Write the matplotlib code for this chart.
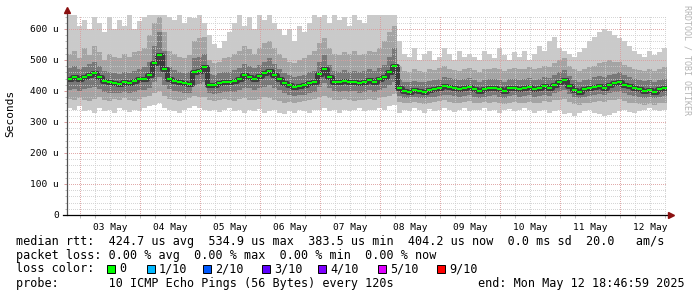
import numpy as np
import matplotlib
matplotlib.use("Agg")
import matplotlib.pyplot as plt
from matplotlib.patches import Rectangle

# 10 day smokeping graph, 2 hour bins, values in microseconds
day_labels = ["03 May", "04 May", "05 May", "06 May", "07 May",
              "08 May", "09 May", "10 May", "11 May", "12 May"]

median = [440, 445, 438, 445, 452, 458, 445, 432, 428, 425,
          422, 428, 425, 432, 438, 440, 450, 490, 515, 470,
          440, 432, 428, 425, 422, 462, 465, 478, 420, 418,
          425, 430, 428, 432, 440, 450, 445, 440, 448, 458,
          465, 450, 438, 425, 418, 412, 415, 418, 425, 430,
          455, 470, 445, 430, 428, 432, 428, 430, 425, 430,
          435, 430, 438, 445, 462, 480, 410, 400, 398, 402,
          400, 398, 402, 405, 410, 415, 412, 408, 405, 410,
          412, 405, 400, 405, 408, 410, 405, 400, 408, 410,
          405, 408, 412, 405, 410, 415, 410, 420, 430, 435,
          415, 402, 398, 405, 410, 412, 415, 410, 418, 425,
          428, 420, 415, 410, 405, 400, 402, 398, 405, 408]

outer_hi = [645, 650, 610, 630, 600, 640, 620, 590, 640, 600,
            630, 610, 645, 600, 625, 640, 650, 660, 660, 650,
            640, 630, 645, 620, 640, 635, 645, 620, 580, 550,
            540, 560, 590, 620, 645, 610, 640, 600, 645, 630,
            645, 620, 600, 580, 600, 560, 610, 590, 620, 645,
            640, 645, 620, 645, 630, 640, 610, 645, 630, 620,
            645, 650, 650, 650, 650, 650, 560, 520, 510, 540,
            500, 520, 530, 500, 510, 540, 520, 500, 530, 510,
            520, 510, 500, 530, 520, 505, 540, 515, 500, 525,
            510, 530, 500, 520, 545, 530, 560, 575, 540, 530,
            520, 510, 525, 540, 560, 575, 590, 600, 595, 580,
            570, 560, 545, 530, 520, 510, 530, 515, 525, 540]

outer_lo = [345, 340, 350, 335, 340, 330, 345, 335, 340, 330,
            345, 338, 332, 340, 335, 345, 350, 355, 360, 345,
            340, 335, 330, 338, 345, 350, 345, 340, 335, 340,
            332, 338, 345, 335, 340, 330, 338, 335, 342, 330,
            335, 340, 330, 325, 335, 330, 340, 335, 330, 338,
            340, 345, 335, 340, 330, 338, 335, 340, 345, 335,
            340, 338, 345, 340, 350, 355, 330, 340, 335, 345,
            338, 330, 342, 335, 340, 345, 338, 332, 340, 345,
            335, 340, 338, 345, 335, 340, 330, 338, 342, 335,
            340, 345, 338, 330, 335, 340, 328, 335, 340, 325,
            330, 320, 328, 335, 340, 330, 325, 318, 322, 330,
            335, 340, 332, 328, 335, 340, 345, 338, 335, 340]

mid_hi = [520, 530, 505, 540, 515, 545, 525, 500, 520, 510,
          505, 520, 510, 525, 530, 540, 580, 620, 640, 590,
          530, 520, 510, 505, 515, 560, 570, 575, 500, 490,
          495, 505, 510, 520, 530, 545, 535, 520, 540, 555,
          560, 540, 520, 505, 495, 490, 500, 505, 515, 530,
          555, 570, 540, 520, 515, 525, 520, 530, 515, 520,
          530, 525, 540, 560, 590, 610, 480, 465, 460, 470,
          465, 460, 470, 468, 475, 480, 472, 468, 465, 470,
          475, 468, 462, 470, 472, 475, 470, 465, 472, 475,
          470, 472, 478, 470, 475, 482, 478, 490, 500, 505,
          480, 470, 465, 472, 478, 482, 490, 495, 500, 495,
          492, 485, 478, 472, 468, 465, 470, 466, 472, 476]

mid_lo = [375, 370, 378, 372, 368, 375, 380, 372, 368, 375,
          370, 378, 372, 368, 375, 380, 385, 395, 400, 385,
          375, 370, 368, 372, 378, 385, 382, 380, 370, 368,
          372, 375, 370, 368, 375, 378, 372, 370, 375, 380,
          378, 372, 368, 362, 365, 360, 365, 368, 370, 375,
          380, 385, 378, 372, 370, 375, 372, 368, 370, 372,
          375, 372, 378, 380, 385, 390, 365, 362, 360, 365,
          362, 358, 362, 365, 368, 370, 365, 362, 360, 365,
          368, 362, 360, 365, 362, 365, 360, 358, 362, 365,
          360, 362, 365, 360, 362, 368, 365, 370, 372, 375,
          365, 358, 355, 360, 362, 365, 368, 365, 370, 372,
          375, 368, 362, 360, 358, 355, 358, 355, 360, 362]

inner_hi = [475, 480, 470, 478, 488, 495, 480, 465, 460, 458,
            455, 462, 458, 465, 472, 478, 495, 545, 590, 530,
            478, 468, 462, 458, 460, 505, 510, 520, 455, 450,
            458, 462, 460, 468, 475, 488, 482, 475, 485, 495,
            505, 488, 472, 458, 450, 445, 448, 452, 460, 465,
            495, 515, 485, 465, 462, 468, 462, 465, 460, 465,
            470, 465, 475, 485, 510, 540, 440, 430, 428, 432,
            430, 428, 432, 436, 440, 445, 442, 438, 435, 440,
            442, 436, 430, 435, 438, 440, 435, 430, 438, 440,
            436, 438, 442, 436, 440, 446, 442, 452, 462, 468,
            448, 434, 430, 436, 440, 444, 448, 444, 450, 456,
            460, 452, 446, 440, 436, 432, 434, 430, 436, 440]

inner_lo = [402, 405, 400, 405, 410, 412, 405, 398, 395, 395,
            392, 396, 394, 398, 402, 404, 410, 430, 445, 420,
            405, 400, 398, 395, 394, 420, 422, 430, 392, 390,
            394, 398, 396, 398, 404, 410, 408, 404, 408, 414,
            418, 410, 402, 394, 388, 384, 386, 388, 394, 398,
            412, 425, 410, 400, 398, 400, 398, 400, 395, 398,
            402, 398, 404, 410, 420, 430, 385, 378, 376, 380,
            378, 376, 380, 382, 385, 388, 386, 384, 382, 385,
            386, 382, 378, 382, 384, 386, 382, 378, 384, 386,
            382, 384, 386, 382, 385, 388, 385, 392, 398, 402,
            390, 380, 376, 382, 385, 388, 390, 386, 392, 396,
            398, 392, 388, 385, 382, 378, 380, 376, 382, 384]

loss_labels = ["0", "1/10", "2/10", "3/10", "4/10", "5/10", "9/10"]
loss_colors = ["#00ff00", "#00b8ff", "#0059ff", "#5e00ff", "#7e00ff", "#dd00ff", "#ff0000"]

# hours relative to 03 May 00:00, graph ends 12 May 18:46:59
start = -(5 + 13 / 60)
edges = start + 2 * np.arange(len(median) + 1)


def stepped(vals):
    return np.append(vals, vals[-1])


fig = plt.figure(figsize=(6.97, 2.97), dpi=100)
W, H = 697, 297
ax = fig.add_axes([67 / W, 82 / H, 600 / W, 200 / H])
ax.set_xlim(start, start + 240)
ax.set_ylim(0, 645)

ax.fill_between(edges, stepped(outer_lo), stepped(outer_hi), step="post",
                color="#cacaca", lw=0, zorder=1)
ax.fill_between(edges, stepped(mid_lo), stepped(mid_hi), step="post",
                color="#a4a4a4", lw=0, zorder=1)
ax.fill_between(edges, stepped(inner_lo), stepped(inner_hi), step="post",
                color="#787878", lw=0, zorder=1)
ax.step(edges, stepped(median), where="post", color="#3c3c3c", lw=3.6, zorder=2)

# dotted grid drawn over the smoke, like rrdtool
px = 0.72
grid_kw = dict(lw=px, ls=(0, (1, 2)), antialiased=False, zorder=3)
for v in range(20, 645, 20):
    if v % 100:
        ax.axhline(v, color="#cccccc", alpha=0.8, **grid_kw)
for v in range(100, 645, 100):
    ax.axhline(v, color="#dc9c9c", alpha=0.85, **grid_kw)
for h in range(0, 235, 6):
    if h % 24:
        ax.axvline(h, color="#cccccc", alpha=0.8, **grid_kw)
for h in range(0, 235, 24):
    ax.axvline(h, color="#dc9c9c", alpha=0.85, **grid_kw)

ax.hlines(median, edges[:-1], edges[1:], color="#00ff00", lw=1.5, zorder=4)

for s in ax.spines.values():
    s.set_visible(False)
ax.plot([0, 0], [0, 1.02], transform=ax.transAxes, color="#505050", lw=0.9,
        clip_on=False, zorder=5)
ax.plot([-0.007, 1.004], [0, 0], transform=ax.transAxes, color="black", lw=0.9,
        clip_on=False, zorder=5)
ax.plot([0], [1.025], transform=ax.transAxes, marker="^", ms=4, color="#8b1010",
        clip_on=False, zorder=6)
ax.plot([1.007], [0], transform=ax.transAxes, marker=">", ms=4, color="#8b1010",
        clip_on=False, zorder=6)

mono = "DejaVu Sans Mono"
ax.set_yticks(range(0, 645, 100))
ax.set_yticklabels(["0"] + [f"{v} u" for v in range(100, 645, 100)],
                   family=mono, fontsize=6.8)
ax.set_yticks(range(20, 645, 20), minor=True)
ax.set_xticks([12 + 24 * i for i in range(len(day_labels))])
ax.set_xticklabels(day_labels, family=mono, fontsize=6.8)
ax.set_xticks(range(0, 235, 6), minor=True)
ax.tick_params(axis="y", length=2.2, width=0.7, pad=3.5, color="#d89a9a", labelcolor="black")
ax.tick_params(axis="y", which="minor", length=1.5, width=0.7, color="#bbbbbb")
ax.tick_params(axis="x", length=0, pad=5.5)
ax.tick_params(axis="x", which="minor", length=1.8, width=0.7, color="#bbbbbb")

fig.text(10 / W, 1 - 113 / H, "Seconds", rotation=90, family=mono, fontsize=8,
         ha="center", va="center")
fig.text(687 / W, 1 - 5 / H, "RRDTOOL / TOBI OETIKER", rotation=270, family=mono,
         fontsize=6, color="#b4b4b4", ha="center", va="top")

fs = 8.5
rows = [
    (241, "median rtt:  424.7 us avg  534.9 us max  383.5 us min  404.2 us now  0.0 ms sd  20.0   am/s"),
    (256, "packet loss: 0.00 % avg  0.00 % max  0.00 % min  0.00 % now"),
    (269, "loss color:"),
    (283, "probe:       10 ICMP Echo Pings (56 Bytes) every 120s"),
]
for y, txt in rows:
    fig.text(16 / W, 1 - y / H, txt, family=mono, fontsize=fs, ha="left", va="center")
fig.text(478 / W, 1 - 283 / H, "end: Mon May 12 18:46:59 2025", family=mono,
         fontsize=fs, ha="left", va="center")

sq_left = [107, 147, 203, 262, 318, 378, 437]
for xl, lab, col in zip(sq_left, loss_labels, loss_colors):
    fig.patches.append(Rectangle((xl / W, 1 - 273 / H), 8 / W, 8 / H,
                                 transform=fig.transFigure, facecolor=col,
                                 edgecolor="black", lw=0.7))
    fig.text((xl + 12) / W, 1 - 269 / H, lab, family=mono, fontsize=fs,
             ha="left", va="center")

fig.savefig("out.png", dpi=100)
